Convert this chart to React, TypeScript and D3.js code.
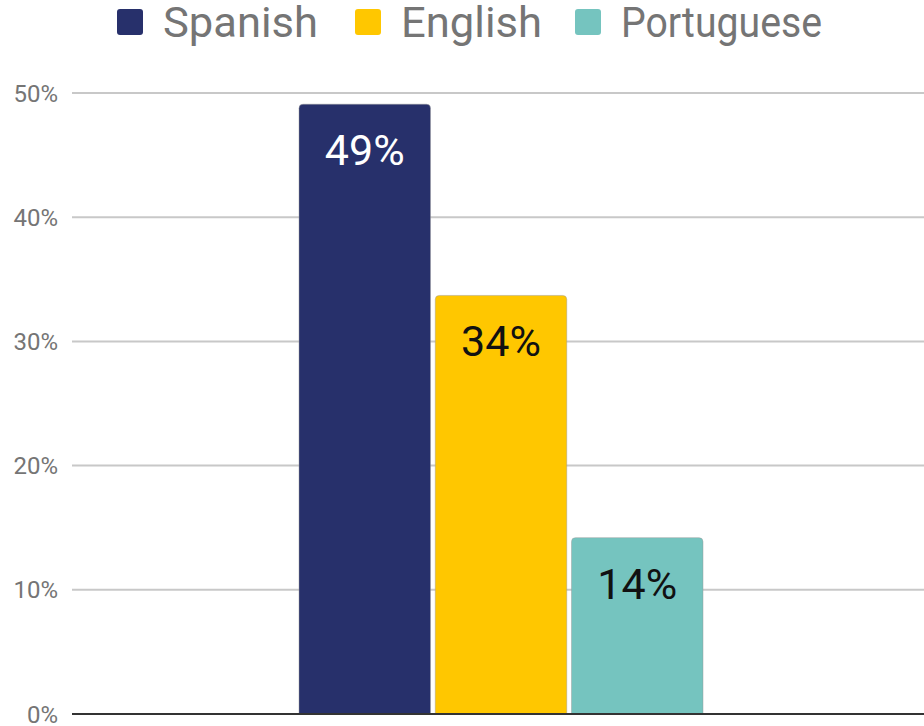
import React from "react";
import * as d3 from "d3";

const categories = ["Spanish", "English", "Portuguese"];
const values = [49.1, 33.7, 14.2];
const valueLabels = ["49%", "34%", "14%"];
const colors = ["#27306b", "#ffc700", "#75c4bf"];
const labelColors = ["#ffffff", "#111111", "#111111"];
const yTicks = [0, 10, 20, 30, 40, 50];

const W = 924;
const H = 726;
const plotLeft = 72;
const plotRight = 924;
const plotTop = 93;
const plotBottom = 714;
const FONT = "Roboto, 'Noto Sans', sans-serif";

export default function App() {
  const y = d3.scaleLinear().domain([0, 50]).range([plotBottom, plotTop]);
  const outer = d3.scaleBand().domain(["all"]).range([plotLeft, plotRight]).paddingInner(0).paddingOuter(0.5545);
  const groupX = outer("all")!;
  const inner = d3
    .scaleBand()
    .domain(categories)
    .range([groupX + 3, groupX + outer.bandwidth() + 3])
    .paddingInner(0.035)
    .paddingOuter(0);

  const legendX = [117, 355, 575];
  const legendTextW = [155, 141, 201];
  const r = 4;

  const barPath = (x0: number, x1: number, yTop: number, yBot: number) => {
    const p = d3.path();
    p.moveTo(x0, yBot);
    p.lineTo(x0, yTop + r);
    p.quadraticCurveTo(x0, yTop, x0 + r, yTop);
    p.lineTo(x1 - r, yTop);
    p.quadraticCurveTo(x1, yTop, x1, yTop + r);
    p.lineTo(x1, yBot);
    p.closePath();
    return p.toString();
  };

  return (
    <svg
      width={W}
      height={H}
      style={{ position: "absolute", left: 0, top: 0, background: "#fff" }}
      fontFamily={FONT}
    >
      {/* legend */}
      {categories.map((c, i) => (
        <g key={c} transform={`translate(${legendX[i]},0)`}>
          <rect x={0} y={9} width={26} height={26} rx={3} fill={colors[i]} />
          <text
            x={46}
            y={37}
            fontSize={43}
            fill="#757575"
            textLength={legendTextW[i]}
            lengthAdjust="spacingAndGlyphs"
          >
            {c}
          </text>
        </g>
      ))}

      {/* gridlines */}
      {yTicks.map((t) => (
        <g key={t}>
          {t !== 0 && (
            <line x1={plotLeft} x2={plotRight} y1={y(t)} y2={y(t)} stroke="#c8c8c8" strokeWidth={2} />
          )}
          <text
            x={58}
            y={y(t)}
            dy="0.36em"
            textAnchor="end"
            fontSize={24}
            fill="#757575"
          >
            {t}%
          </text>
        </g>
      ))}

      {/* bars */}
      {categories.map((c, i) => {
        const x0 = inner(c)!;
        const x1 = x0 + inner.bandwidth();
        const yTop = y(values[i]);
        return (
          <g key={c}>
            <path
              d={barPath(x0, x1, yTop, plotBottom)}
              fill={colors[i]}
              stroke="#9a9a9a"
              strokeOpacity={0.45}
              strokeWidth={1}
            />
            <text
              x={(x0 + x1) / 2}
              y={yTop + 61}
              textAnchor="middle"
              fontSize={43}
              fill={labelColors[i]}
            >
              {valueLabels[i]}
            </text>
          </g>
        );
      })}

      {/* baseline */}
      <line x1={plotLeft} x2={plotRight} y1={plotBottom} y2={plotBottom} stroke="#333333" strokeWidth={2} />
    </svg>
  );
}
